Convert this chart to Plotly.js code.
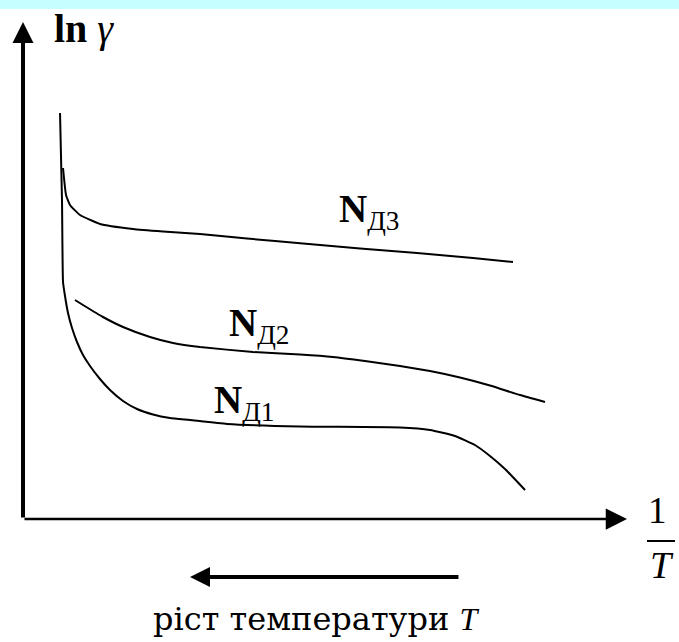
<!DOCTYPE html>
<html>
<head>
<meta charset="utf-8">
<script src="https://cdn.plot.ly/plotly-3.0.1.min.js"></script>
<style>html,body{margin:0;padding:0;background:#fff;}#chart{width:679px;height:642px;}</style>
</head>
<body>
<div id="chart"></div>
<script>
// Curve values (arbitrary units: x = 1/T, y = ln gamma)
const nd1X = [0.617, 0.65, 0.667, 0.7, 0.75, 0.817, 0.9, 1.0, 1.117, 1.283, 1.45, 1.667, 1.9, 2.167, 2.45, 2.783, 3.4, 4.617, 6.283, 6.783, 7.2, 7.533, 7.783, 8.033, 8.367];
const nd1Y = [8.12, 6.38, 4.74, 4.46, 4.12, 3.82, 3.54, 3.28, 3.06, 2.80, 2.58, 2.36, 2.20, 2.09, 2.02, 1.98, 1.90, 1.85, 1.83, 1.78, 1.66, 1.48, 1.26, 1.00, 0.58];

const nd2X = [0.867, 1.0, 1.333, 1.667, 2.117, 2.5, 2.95, 3.833, 4.617, 5.167, 5.7, 6.283, 6.783, 7.283, 7.783, 8.283, 8.7];
const nd2Y = [4.38, 4.28, 4.04, 3.84, 3.64, 3.52, 3.44, 3.34, 3.29, 3.24, 3.16, 3.06, 2.96, 2.83, 2.67, 2.48, 2.34];

const nd3X = [0.667, 0.717, 0.783, 0.95, 1.283, 1.833, 2.333, 2.95, 3.733, 4.667, 5.617, 6.567, 7.5, 8.167];
const nd3Y = [7.02, 6.48, 6.28, 6.08, 5.90, 5.80, 5.75, 5.70, 5.61, 5.51, 5.41, 5.32, 5.22, 5.14];

const seriesLabels = ['<b>N</b><sub>Д1</sub>', '<b>N</b><sub>Д2</sub>', '<b>N</b><sub>Д3</sub>'];
const yTitle = '<b>ln</b> <i>γ</i>';
const xTitleTop = '1';
const xTitleBottom = '<i>T</i>';
const arrowCaption = 'ріст температури <span style="font-family:Liberation Serif"><i>T</i></span>';

const FONT = 'Liberation Serif, Times New Roman, serif';
const lineStyle = {color: '#000', width: 2, shape: 'spline', smoothing: 0.4};

const traces = [
  {x: nd1X, y: nd1Y, mode: 'lines', line: lineStyle, name: 'NД1', hoverinfo: 'skip'},
  {x: nd2X, y: nd2Y, mode: 'lines', line: lineStyle, name: 'NД2', hoverinfo: 'skip'},
  {x: nd3X, y: nd3Y, mode: 'lines', line: lineStyle, name: 'NД3', hoverinfo: 'skip'}
];

const arrowBase = {xref: 'x', yref: 'y', axref: 'x', ayref: 'y', text: '', showarrow: true,
  arrowhead: 2, arrowcolor: '#000', standoff: 0, startstandoff: 0};

const annotations = [
  // y axis
  Object.assign({}, arrowBase, {x: 0, y: 9.94, ax: 0, ay: 0, arrowwidth: 4, arrowsize: 1.05}),
  // x axis
  Object.assign({}, arrowBase, {x: 10.067, y: 0, ax: 0, ay: 0, arrowwidth: 2.5, arrowsize: 1.7}),
  // temperature arrow
  Object.assign({}, arrowBase, {x: 2.783, y: -1.16, ax: 7.283, ay: -1.16, arrowwidth: 4, arrowsize: 1.0}),
  // texts
  {x: 0.483, y: 9.82, xref: 'x', yref: 'y', text: yTitle, showarrow: false, xanchor: 'left', yanchor: 'middle',
   font: {family: FONT, size: 40, color: '#000'}},
  {x: 10.567, y: 0.18, xref: 'x', yref: 'y', text: xTitleTop, showarrow: false, xanchor: 'center', yanchor: 'middle',
   font: {family: FONT, size: 37, color: '#000'}},
  {x: 10.65, y: -0.92, xref: 'x', yref: 'y', text: xTitleBottom, showarrow: false, xanchor: 'center', yanchor: 'middle',
   font: {family: FONT, size: 38, color: '#000'}},
  {x: 4.89, y: -1.99, xref: 'x', yref: 'y', text: arrowCaption, showarrow: false, xanchor: 'center', yanchor: 'middle',
   font: {family: 'DejaVu Serif, serif', size: 32, color: '#000'}},
  {x: 3.15, y: 2.34, xref: 'x', yref: 'y', text: seriesLabels[0], showarrow: false, xanchor: 'left', yanchor: 'middle',
   font: {family: FONT, size: 39, color: '#000'}},
  {x: 3.4, y: 3.87, xref: 'x', yref: 'y', text: seriesLabels[1], showarrow: false, xanchor: 'left', yanchor: 'middle',
   font: {family: FONT, size: 39, color: '#000'}},
  {x: 5.233, y: 6.16, xref: 'x', yref: 'y', text: seriesLabels[2], showarrow: false, xanchor: 'left', yanchor: 'middle',
   font: {family: FONT, size: 39, color: '#000'}}
];

const layout = {
  width: 679, height: 642,
  margin: {l: 0, r: 0, t: 0, b: 0, pad: 0},
  paper_bgcolor: '#fff', plot_bgcolor: '#fff',
  showlegend: false,
  xaxis: {range: [-0.3833, 10.9333], visible: false, fixedrange: true},
  yaxis: {range: [-2.46, 10.38], visible: false, fixedrange: true},
  annotations: annotations,
  shapes: [
    {type: 'rect', xref: 'paper', yref: 'paper', x0: 0, x1: 1, y0: 0.986, y1: 1,
     fillcolor: '#c6fdff', line: {width: 0}, layer: 'below'},
    {type: 'line', xref: 'x', yref: 'y', x0: 10.4, x1: 10.867, y0: -0.44, y1: -0.44,
     line: {color: '#000', width: 2}}
  ]
};

Plotly.newPlot('chart', traces, layout, {staticPlot: true, displayModeBar: false});
</script>
</body>
</html>
